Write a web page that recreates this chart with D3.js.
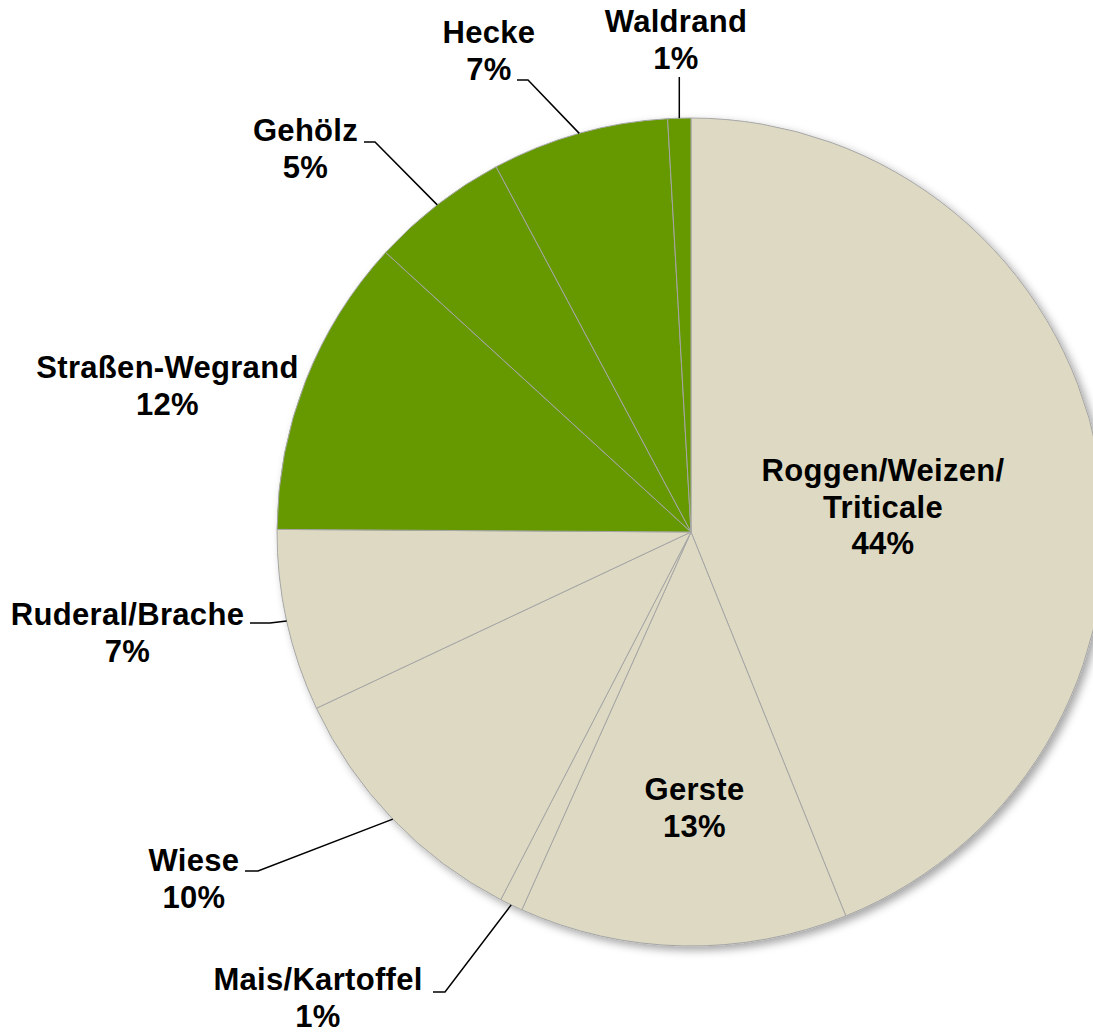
<!DOCTYPE html>
<html>
<head>
<meta charset="utf-8">
<script src="https://cdn.jsdelivr.net/npm/d3@7"></script>
<style>
  html, body { margin: 0; padding: 0; background: #ffffff; }
  svg { display: block; }
  text { font-family: "Liberation Sans", Arial, sans-serif; font-weight: bold; fill: #000; }
</style>
</head>
<body>
<svg id="chart" width="1093" height="1032"></svg>
<script>
// ---- data (percent of total) ----
const categories = ["Roggen/Weizen/Triticale", "Gerste", "Mais/Kartoffel", "Wiese", "Ruderal/Brache",
                    "Straßen-Wegrand", "Gehölz", "Hecke", "Waldrand"];
const labelLines = [["Roggen/Weizen/", "Triticale"], ["Gerste"], ["Mais/Kartoffel"], ["Wiese"], ["Ruderal/Brache"],
                    ["Straßen-Wegrand"], ["Gehölz"], ["Hecke"], ["Waldrand"]];
const values = [43.9, 12.8, 0.9, 10.4, 7.1, 11.7, 5.4, 6.9, 0.9];
const groups = ["Acker", "Acker", "Acker", "Acker", "Acker", "Saum", "Saum", "Saum", "Saum"];

// ---- layout (positions/styles only) ----
const W = 1093, H = 1032;
const cx = 691, cy = 532, R = 414;
const FONT = 31, LINE = 36.5;
const colorScale = d3.scaleOrdinal().domain(["Acker", "Saum"]).range(["#DDD9C3", "#669900"]);
// label block: center x, first baseline y; leader: start point and elbow (null = none)
const labelLayout = [
  { x: 883, y: 481, leader: null },
  { x: 694.5, y: 800, leader: null },
  { x: 318, y: 990, leader: [[433, 992], [445, 992]] },
  { x: 194, y: 871, leader: [[245, 871], [258, 871]] },
  { x: 127.5, y: 625, leader: [[250, 623], [270, 623]] },
  { x: 167.5, y: 378, leader: null },
  { x: 305.5, y: 141, leader: [[364, 142], [375, 142]] },
  { x: 489, y: 43, leader: [[517, 80], [528, 80]] },
  { x: 676, y: 32, leader: "vertical" }
];

const svg = d3.select("#chart");
const defs = svg.append("defs");
const f = defs.append("filter").attr("id", "shadow")
  .attr("x", "-10%").attr("y", "-10%").attr("width", "130%").attr("height", "130%");
f.append("feDropShadow").attr("dx", 4).attr("dy", 4).attr("stdDeviation", 4)
  .attr("flood-color", "#000").attr("flood-opacity", 0.35);

const total = d3.sum(values);
const pie = d3.pie().sort(null).value(d => d)(values);
const arc = d3.arc().innerRadius(0).outerRadius(R);

const g = svg.append("g").attr("transform", `translate(${cx},${cy})`);
g.append("g").attr("filter", "url(#shadow)")
  .selectAll("path").data(pie).enter().append("path")
  .attr("d", arc)
  .attr("fill", (d, i) => colorScale(groups[i]))
  .attr("stroke", "#A6A6A6")
  .attr("stroke-width", 1);

// leaders
pie.forEach((d, i) => {
  const L = labelLayout[i];
  if (!L.leader) return;
  const mid = (d.startAngle + d.endAngle) / 2;
  const ax = cx + R * Math.sin(mid), ay = cy - R * Math.cos(mid);
  let pts;
  if (L.leader === "vertical") pts = [[ax, 77], [ax, ay]];
  else pts = [...L.leader, [ax, ay]];
  svg.append("path")
    .attr("d", d3.line()(pts))
    .attr("fill", "none").attr("stroke", "#000").attr("stroke-width", 1.5);
});

// labels
pie.forEach((d, i) => {
  const L = labelLayout[i];
  const lines = [...labelLines[i], Math.round(values[i] / total * 100) + "%"];
  const t = svg.append("text")
    .attr("text-anchor", "middle")
    .attr("font-size", FONT)
    .attr("letter-spacing", 0.3);
  lines.forEach((s, k) => {
    t.append("tspan").attr("x", L.x).attr("y", L.y + k * LINE).text(s);
  });
});
</script>
</body>
</html>
